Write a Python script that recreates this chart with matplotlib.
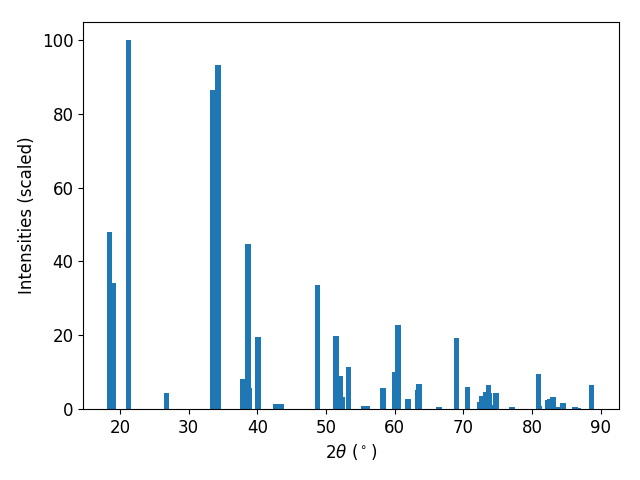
import matplotlib
matplotlib.use("Agg")
import matplotlib.pyplot as plt

# peak positions (2theta, degrees) and scaled intensities
two_theta = [18.49, 19.00, 21.22, 26.76, 33.48, 34.29, 37.83, 38.63, 38.82,
             40.09, 42.66, 43.46, 48.75, 51.45, 52.08, 52.37, 53.27, 55.47,
             56.00, 58.29, 60.00, 60.48, 61.94, 63.35, 63.50, 66.45, 69.00,
             70.57, 72.35, 72.64, 73.22, 73.62, 73.73, 73.88, 74.72, 77.05,
             80.94, 81.00, 82.25, 82.54, 83.00, 83.63, 84.47, 86.22, 86.69,
             88.62]
intensity = [48.1, 34.2, 100.0, 4.3, 86.5, 93.3, 8.1, 44.7, 5.7,
             19.6, 1.35, 1.35, 33.6, 19.8, 9.0, 3.3, 11.4, 0.8,
             0.8, 5.7, 10.0, 22.8, 2.7, 5.2, 6.8, 0.5, 19.3,
             6.0, 1.9, 3.5, 4.6, 6.5, 4.3, 1.1, 4.3, 0.55,
             9.5, 0.8, 2.4, 2.7, 3.3, 0.5, 1.6, 0.6, 0.3,
             6.5]

fig, ax = plt.subplots(figsize=(6.4, 4.8), dpi=100)
ax.bar(two_theta, intensity, width=0.8, color='#1f77b4')

ax.set_xlim(14.64, 92.62)
ax.set_ylim(0, 105)
ax.tick_params(axis='both', labelsize=12)
ax.set_xlabel(r'$2\theta$ ($^\circ$)', fontsize=12)
ax.set_ylabel('Intensities (scaled)', fontsize=12)

fig.subplots_adjust(left=0.130, right=0.967, bottom=0.148, top=0.955)
plt.savefig("out.png")
plt.close()
